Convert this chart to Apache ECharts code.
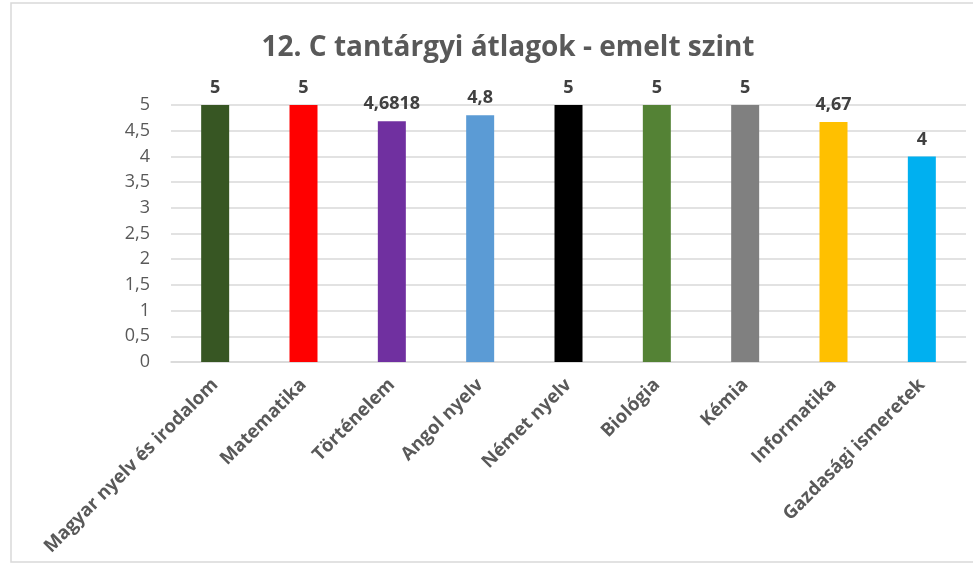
<!DOCTYPE html>
<html>
<head>
<meta charset="utf-8">
<script src="https://cdn.jsdelivr.net/npm/echarts@6/dist/echarts.min.js"></script>
<style>
  html, body { margin: 0; padding: 0; background: #fff; }
  #chart { width: 973px; height: 565px; }
</style>
</head>
<body>
<div id="chart"></div>
<script>
// tantárgyak
var categories = ['Magyar nyelv és irodalom', 'Matematika', 'Történelem', 'Angol nyelv',
    'Német nyelv', 'Biológia', 'Kémia', 'Informatika', 'Gazdasági ismeretek'];
var values = [5, 5, 4.6818, 4.8, 5, 5, 5, 4.67, 4];
var barColors = ['#375623', '#ff0000', '#7030a0', '#5b9bd5', '#000000',
    '#548235', '#808080', '#ffc000', '#00b0f0'];

var FONT = 'Open Sans';

var myChart = echarts.init(document.getElementById('chart'));

var option = {
    backgroundColor: '#fff',
    animation: false,
    title: {
        text: '12. C tantárgyi átlagok - emelt szint',
        left: 503,
        top: 29,
        textAlign: 'center',
        textStyle: {
            fontFamily: FONT,
            fontWeight: 'bold',
            fontSize: 28,
            color: '#595959'
        }
    },
    graphic: [{
        type: 'rect',
        shape: { x: 11, y: 3, width: 980, height: 559 },
        style: { fill: 'none', stroke: '#d9d9d9', lineWidth: 1.5 },
        silent: true
    }],
    grid: {
        left: 171,
        right: 7,
        top: 105,
        bottom: 203
    },
    xAxis: {
        type: 'category',
        data: categories,
        axisTick: { show: false },
        axisLine: { lineStyle: { color: '#d9d9d9', width: 1.5 } },
        axisLabel: {
            interval: 0,
            rotate: 45,
            margin: 20,
            fontFamily: FONT,
            fontWeight: 'bold',
            fontSize: 18.5,
            color: '#595959'
        }
    },
    yAxis: {
        type: 'value',
        min: 0,
        max: 5,
        interval: 0.5,
        axisLine: { show: false },
        axisTick: { show: false },
        splitLine: { lineStyle: { color: '#d9d9d9', width: 1.5 } },
        axisLabel: {
            margin: 21,
            fontFamily: FONT,
            fontSize: 18,
            color: '#595959',
            formatter: function(v) {
                return String(v).replace('.', ',');
            }
        }
    },
    series: [{
        type: 'bar',
        barWidth: 28,
        data: values.map(function(v, i) {
            return { value: v, itemStyle: { color: barColors[i] } };
        }),
        label: {
            show: true,
            position: 'top',
            distance: 8,
            fontFamily: FONT,
            fontWeight: 'bold',
            fontSize: 18,
            color: '#404040',
            formatter: function(p) {
                return String(p.value).replace('.', ',');
            }
        }
    }]
};

myChart.setOption(option);
</script>
</body>
</html>
